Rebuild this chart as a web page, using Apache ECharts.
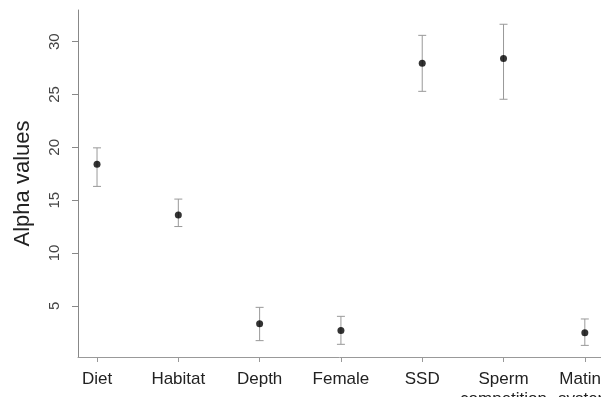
<!DOCTYPE html>
<html>
<head>
<meta charset="utf-8">
<script src="https://cdn.jsdelivr.net/npm/echarts@6/dist/echarts.min.js"></script>
<style>
html,body{margin:0;padding:0;background:#fff;}
#c{width:601px;height:397px;}
</style>
</head>
<body>
<div id="c"></div>
<script>
var categories = ['Diet', 'Habitat', 'Depth', 'Female', 'SSD', 'Sperm\ncompetition', 'Mating\nsystem'];
var means = [18.4, 13.6, 3.3, 2.65, 27.95, 28.4, 2.45];
var lower = [16.3, 12.5, 1.7, 1.35, 25.3, 24.55, 1.25];
var upper = [19.95, 15.1, 4.85, 4.0, 30.6, 31.65, 3.75];
var yTicks = [5, 10, 15, 20, 25, 30];
var xPositions = categories.map(function (c, i) { return i + 1; });

var chart = echarts.init(document.getElementById('c'), null, {renderer: 'canvas'});
var font = 'Liberation Sans, Arial, Helvetica, sans-serif';

chart.setOption({
  animation: false,
  backgroundColor: '#fff',
  grid: {left: 78, right: 0, top: 10, bottom: 40, containLabel: false, outerBoundsMode: 'none'},
  xAxis: {
    type: 'value',
    min: 0.766,
    max: 7.199,
    splitLine: {show: false},
    axisLine: {show: true, lineStyle: {color: '#999', width: 1}},
    axisTick: {show: true, customValues: xPositions, length: 5, lineStyle: {color: '#999'}},
    axisLabel: {
      customValues: xPositions,
      formatter: function (v) { return categories[Math.round(v) - 1] || ''; },
      fontFamily: font, fontSize: 17, color: '#222', margin: 12, lineHeight: 20,
      verticalAlign: 'top'
    }
  },
  yAxis: {
    type: 'value',
    min: 0.15,
    max: 33,
    name: 'Alpha values',
    nameLocation: 'middle',
    nameGap: 44,
    nameTextStyle: {fontFamily: font, fontSize: 22, color: '#222'},
    splitLine: {show: false},
    axisLine: {show: true, lineStyle: {color: '#888', width: 1}},
    axisTick: {show: true, customValues: yTicks, length: 6, lineStyle: {color: '#888'}},
    axisLabel: {
      customValues: yTicks,
      rotate: 90,
      fontFamily: font, fontSize: 15, color: '#444', margin: 16
    }
  },
  series: [
    {
      type: 'custom',
      data: xPositions.map(function (x, i) { return [x, lower[i], upper[i]]; }),
      renderItem: function (params, api) {
        var x = api.value(0);
        var lo = api.coord([x, api.value(1)]);
        var hi = api.coord([x, api.value(2)]);
        var hw = 4;
        var st = {stroke: '#999', lineWidth: 1};
        return {
          type: 'group',
          children: [
            {type: 'line', shape: {x1: lo[0], y1: lo[1], x2: hi[0], y2: hi[1]}, style: st},
            {type: 'line', shape: {x1: lo[0] - hw, y1: lo[1], x2: lo[0] + hw, y2: lo[1]}, style: st},
            {type: 'line', shape: {x1: hi[0] - hw, y1: hi[1], x2: hi[0] + hw, y2: hi[1]}, style: st}
          ]
        };
      },
      z: 2
    },
    {
      type: 'scatter',
      data: xPositions.map(function (x, i) { return [x, means[i]]; }),
      symbol: 'circle',
      symbolSize: 7,
      itemStyle: {color: '#000'},
      z: 3
    }
  ]
});
</script>
</body>
</html>
